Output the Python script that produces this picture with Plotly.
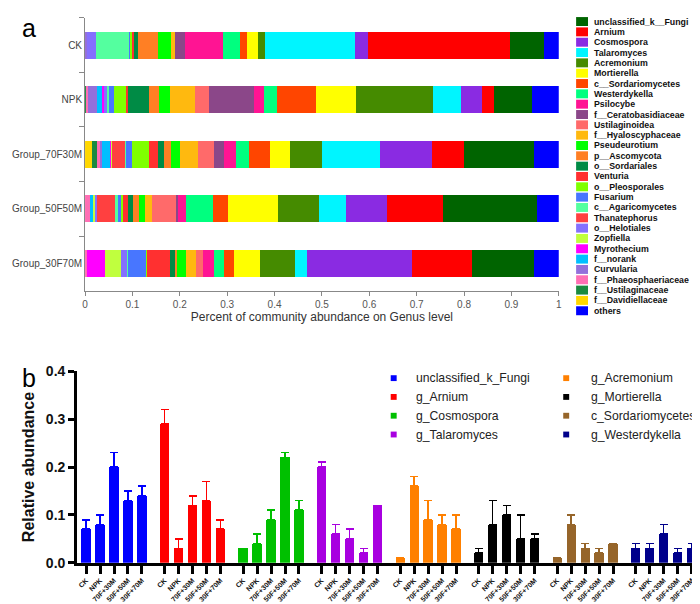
import plotly.graph_objects as go

FONT = "Arial, Liberation Sans, sans-serif"
W, H = 700, 604

# ---------------- panel a data (legend order) ----------------
taxa = ["unclassified_k__Fungi", "Arnium", "Cosmospora", "Talaromyces", "Acremonium",
        "Mortierella", "c__Sordariomycetes", "Westerdykella", "Psilocybe",
        "f__Ceratobasidiaceae", "Ustilaginoidea", "f__Hyaloscyphaceae", "Pseudeurotium",
        "p__Ascomycota", "o__Sordariales", "Venturia", "o__Pleosporales", "Fusarium",
        "c__Agaricomycetes", "Thanatephorus", "o__Helotiales", "Zopfiella", "Myrothecium",
        "f__norank", "Curvularia", "f__Phaeosphaeriaceae", "f__Ustilaginaceae",
        "f__Davidiellaceae", "others"]
taxa_colors = ["#006400", "#FF0000", "#8A2BE2", "#00F5FF", "#458B00", "#FFFF00", "#FF4500",
               "#00FF7F", "#FF1493", "#8B4789", "#FF6A6A", "#FFB90F", "#00FF00", "#FF7F24",
               "#008B45", "#FF3030", "#7FFF00", "#4876FF", "#54FF9F", "#FF4040", "#8470FF",
               "#C0FF3E", "#FF00FF", "#00BFFF", "#9370DB", "#FF6EB4", "#1A8A40", "#FFD700",
               "#0000FF"]
groups = ["CK", "NPK", "Group_70F30M", "Group_50F50M", "Group_30F70M"]

CK = [0.072, 0.300, 0.028, 0.189, 0.015, 0.023, 0.015, 0.036, 0.080, 0.022, 0.000, 0.008,
      0.026, 0.043, 0.008, 0.003, 0.004, 0.004, 0.070, 0.000, 0.018, 0.000, 0.000, 0.000,
      0.003, 0.002, 0.000, 0.000, 0.031]
NPK = [0.080, 0.026, 0.044, 0.058, 0.164, 0.084, 0.081, 0.029, 0.020, 0.095, 0.029, 0.053,
       0.024, 0.022, 0.044, 0.002, 0.027, 0.011, 0.003, 0.000, 0.007, 0.000, 0.004, 0.011,
       0.018, 0.003, 0.004, 0.000, 0.057]
G70F30M = [0.148, 0.066, 0.110, 0.123, 0.067, 0.043, 0.044, 0.027, 0.026, 0.020, 0.034, 0.039,
           0.018, 0.015, 0.014, 0.019, 0.035, 0.012, 0.001, 0.029, 0.000, 0.002, 0.002, 0.017,
           0.004, 0.006, 0.011, 0.015, 0.053]
G50F50M = [0.199, 0.119, 0.087, 0.056, 0.087, 0.106, 0.031, 0.056, 0.017, 0.003, 0.053, 0.014,
           0.014, 0.011, 0.011, 0.010, 0.005, 0.007, 0.004, 0.039, 0.005, 0.004, 0.000, 0.006,
           0.000, 0.011, 0.000, 0.000, 0.045]
G30F70M = [0.131, 0.125, 0.222, 0.025, 0.074, 0.055, 0.021, 0.022, 0.024, 0.000, 0.014, 0.021,
           0.018, 0.006, 0.010, 0.049, 0.001, 0.038, 0.001, 0.001, 0.014, 0.032, 0.039, 0.000,
           0.000, 0.004, 0.000, 0.000, 0.053]
group_values = [CK, NPK, G70F30M, G50F50M, G30F70M]
x_ticks_a = [0, 0.1, 0.2, 0.3, 0.4, 0.5, 0.6, 0.7, 0.8, 0.9, 1]
x_ticktext_a = ["0", "0.1", "0.2", "0.3", "0.4", "0.5", "0.6", "0.7", "0.8", "0.9", "1"]

# ---------------- panel b data ----------------
b_taxa = ["unclassified_k_Fungi", "g_Arnium", "g_Cosmospora", "g_Talaromyces",
          "g_Acremonium", "g_Mortierella", "c_Sordariomycetes", "g_Westerdykella"]
b_colors = ["#0000FF", "#FF0000", "#00C000", "#A800E0", "#FF8000", "#000000", "#96652A", "#00008B"]
treatments = ["CK", "NPK", "70F+30M", "50F+50M", "30F+70M"]
b_means = [
    [0.07, 0.08, 0.20, 0.13, 0.14],
    [0.29, 0.03, 0.12, 0.13, 0.07],
    [0.03, 0.04, 0.09, 0.22, 0.11],
    [0.20, 0.06, 0.05, 0.02, 0.12],
    [0.01, 0.16, 0.09, 0.08, 0.07],
    [0.02, 0.08, 0.10, 0.05, 0.05],
    [0.01, 0.08, 0.03, 0.02, 0.04],
    [0.03, 0.03, 0.06, 0.02, 0.03],
]
b_errors = [
    [0.02, 0.02, 0.03, 0.02, 0.02],
    [0.03, 0.02, 0.02, 0.04, 0.02],
    [0.00, 0.02, 0.02, 0.01, 0.02],
    [0.01, 0.02, 0.02, 0.01, 0.00],
    [0.00, 0.02, 0.04, 0.02, 0.03],
    [0.01, 0.05, 0.02, 0.05, 0.01],
    [0.00, 0.02, 0.01, 0.01, 0.00],
    [0.01, 0.01, 0.02, 0.01, 0.01],
]
b_yticks = [0.0, 0.1, 0.2, 0.3, 0.4]

fig = go.Figure()

# stacked order: left-to-right = legend items reversed (except 'others' last)
stack_order = list(range(len(taxa) - 2, -1, -1)) + [len(taxa) - 1]
for i in stack_order:
    fig.add_trace(go.Bar(
        orientation="h", y=groups, x=[gv[i] for gv in group_values],
        name=taxa[i], marker=dict(color=taxa_colors[i], line=dict(width=0)),
        xaxis="x", yaxis="y", showlegend=False))

# panel b grouped bars
GSTEP = 5.62
for k, name in enumerate(b_taxa):
    xs = [k * GSTEP + j for j in range(len(treatments))]
    fig.add_trace(go.Bar(
        x=xs, y=b_means[k], width=0.66, name=name,
        marker=dict(color=b_colors[k], line=dict(width=0)),
        error_y=dict(type="data", symmetric=False, array=b_errors[k],
                     arrayminus=[0] * len(b_errors[k]), color=b_colors[k],
                     thickness=1.6, width=4),
        xaxis="x2", yaxis="y2", showlegend=False))

tickvals_b = [k * GSTEP + j for k in range(len(b_taxa)) for j in range(len(treatments))]
ticktext_b = [t for _ in b_taxa for t in treatments]

def py(p):
    return 1 - p / H

def px(p):
    return p / W

shapes = []
annotations = []
# legend a
for i, name in enumerate(taxa):
    yc = 5.7 + i * 10.61
    shapes.append(dict(type="rect", xref="paper", yref="paper",
                       x0=px(570), x1=px(582), y0=py(yc + 4.6), y1=py(yc - 4.6),
                       fillcolor=taxa_colors[i], line=dict(width=0)))
    annotations.append(dict(text="<b>" + name + "</b>", xref="paper", yref="paper",
                            x=px(586.5), y=py(yc), xanchor="left", yanchor="middle",
                            showarrow=False, font=dict(family=FONT, size=8.8, color="#111")))
# legend b
for k, name in enumerate(b_taxa):
    col, row = divmod(k, 4)
    mx = 386 if col == 0 else 560
    tx = 406.5 if col == 0 else 583
    yc = 372 + row * 19.3
    shapes.append(dict(type="rect", xref="paper", yref="paper",
                       x0=px(mx - 3), x1=px(mx + 3), y0=py(yc + 3), y1=py(yc - 3),
                       fillcolor=b_colors[k], line=dict(width=0)))
    annotations.append(dict(text=name, xref="paper", yref="paper", x=px(tx), y=py(yc),
                            xanchor="left", yanchor="middle", showarrow=False,
                            font=dict(family=FONT, size=12.2, color="#222")))

annotations.append(dict(text="a", xref="paper", yref="paper", x=px(9), y=py(12),
                        xanchor="left", yanchor="middle", showarrow=False,
                        font=dict(family=FONT, size=25, color="#000")))
annotations.append(dict(text="b", xref="paper", yref="paper", x=px(9), y=py(372),
                        xanchor="left", yanchor="middle", showarrow=False,
                        font=dict(family=FONT, size=25, color="#000")))

fig.update_layout(
    width=W, height=H, margin=dict(l=0, r=0, t=0, b=0),
    paper_bgcolor="white", plot_bgcolor="white",
    barmode="stack", bargap=0.5,
    font=dict(family=FONT),
    xaxis=dict(domain=[px(74.7), px(552.5)], range=[0, 1], tickvals=x_ticks_a,
               ticktext=x_ticktext_a, ticks="outside", ticklen=4, tickcolor="#888",
               showline=True, linecolor="#888", linewidth=1, showgrid=False, zeroline=False,
               tickfont=dict(family=FONT, size=10, color="#555"),
               title=dict(text="Percent of community abundance on Genus level",
                          font=dict(family=FONT, size=12, color="#333"), standoff=4),
               anchor="y"),
    yaxis=dict(domain=[py(282), py(2)], autorange="reversed", type="category",
               tickson="boundaries", ticks="outside", ticklen=5, tickcolor="#888",
               showline=True, linecolor="#888", linewidth=1, showgrid=False,
               tickfont=dict(family=FONT, size=10, color="#444"), anchor="x"),
    xaxis2=dict(domain=[px(66.7), 1.0], range=[-0.64, 44.3], tickvals=tickvals_b,
                ticktext=ticktext_b, tickangle=-45, ticks="outside", ticklen=8, tickwidth=3,
                tickcolor="#000", showline=True, linecolor="#000", linewidth=3,
                showgrid=False, zeroline=False,
                tickfont=dict(family=FONT, size=7, color="#111", weight="bold"),
                anchor="y2"),
    yaxis2=dict(domain=[py(561.7), py(364.9)], range=[0, 0.4], tickvals=b_yticks,
                tickformat=".1f", ticks="outside", ticklen=6, tickwidth=3, tickcolor="#000",
                showline=True, linecolor="#000", linewidth=3, showgrid=False, zeroline=False,
                tickfont=dict(family=FONT, size=14, color="#111", weight="bold"),
                title=dict(text="<b>Relative abundance</b>",
                           font=dict(family=FONT, size=16, color="#111"), standoff=8),
                anchor="x2"),
    shapes=shapes, annotations=annotations,
)

fig.write_html("out.html")
